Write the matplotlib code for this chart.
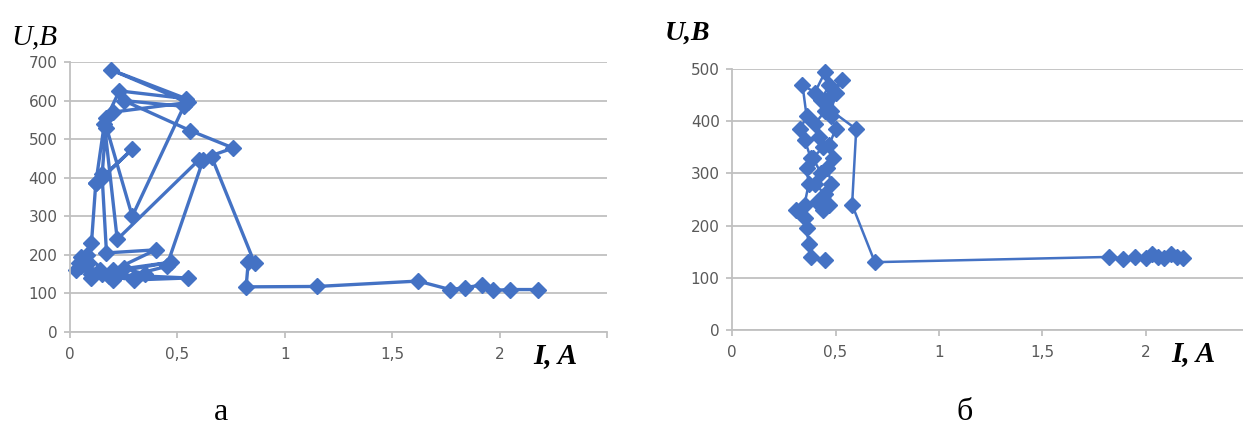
import matplotlib.pyplot as plt
from matplotlib.ticker import FuncFormatter

# chart a: I (A) and U (V), one trace
a_current = [0.03, 0.05, 0.08, 0.10, 0.12, 0.15, 0.17, 0.23, 0.54, 0.19, 0.55,
             0.20, 0.17, 0.29, 0.53, 0.25, 0.56, 0.76, 0.60, 0.22, 0.16, 0.12,
             0.29, 0.15, 0.17, 0.40, 0.20, 0.47, 0.15, 0.55, 0.30, 0.10, 0.04,
             0.08, 0.18, 0.25, 0.35, 0.30, 0.14, 0.05, 0.10, 0.22, 0.20, 0.45,
             0.62, 0.66, 0.86, 0.83, 0.82, 1.15, 1.62, 1.77, 1.84, 1.92, 1.97,
             2.05, 2.18]
a_voltage = [160, 195, 175, 230, 385, 410, 555, 625, 605, 680, 595,
             570, 530, 300, 585, 600, 522, 477, 446, 240, 540, 385,
             474, 400, 205, 213, 160, 181, 150, 140, 135, 150, 180,
             200, 145, 165, 150, 140, 160, 170, 140, 150, 135, 170,
             446, 453, 178, 181, 117, 118, 132, 110, 115, 122, 108,
             110, 110]

# chart b
b_current = [0.45, 0.38, 0.37, 0.36, 0.35, 0.31, 0.35, 0.37, 0.36, 0.38, 0.35,
             0.33, 0.36, 0.34, 0.40, 0.45, 0.47, 0.43, 0.45, 0.40, 0.42, 0.44,
             0.39, 0.43, 0.40, 0.45, 0.41, 0.44, 0.47, 0.48, 0.46, 0.49, 0.47,
             0.50, 0.48, 0.46, 0.53, 0.50, 0.48, 0.60, 0.58, 0.69, 1.82, 1.89,
             1.95, 2.00, 2.03, 2.06, 2.09, 2.12, 2.15, 2.18]
b_voltage = [135, 140, 165, 195, 215, 230, 240, 280, 310, 330, 365,
             385, 410, 470, 455, 495, 470, 440, 420, 395, 370, 350,
             330, 300, 280, 260, 245, 230, 240, 280, 310, 330, 355,
             385, 410, 440, 480, 455, 420, 385, 240, 130, 140, 137,
             140, 138, 145, 140, 138, 145, 140, 138]

x_ticks = [0, 0.5, 1, 1.5, 2, 2.5]

blue = '#4472c4'
grid = '#c0c0c0'

fig = plt.figure(figsize=(12.43, 4.40), dpi=100)
ax1 = fig.add_axes([0.0563, 0.2455, 0.432, 0.6136])
ax2 = fig.add_axes([0.589, 0.25, 0.416, 0.593])


def comma(v, pos):
    if v == 2.5:
        return ''
    return f'{v:g}'.replace('.', ',')


def style(ax, ymax):
    ax.set_xlim(0, 2.5)
    ax.set_ylim(0, ymax)
    ax.set_xticks(x_ticks)
    ax.set_yticks(range(0, ymax + 1, 100))
    ax.xaxis.set_major_formatter(FuncFormatter(comma))
    ax.grid(axis='y', color=grid, lw=1.3)
    ax.set_axisbelow(True)
    for s in ['top', 'right']:
        ax.spines[s].set_visible(False)
    for s in ['left', 'bottom']:
        ax.spines[s].set_color(grid)
        ax.spines[s].set_linewidth(1.3)
    ax.tick_params(colors=grid, labelcolor='#595959', labelsize=11,
                   length=4, width=1.3)
    ax.tick_params(axis='y', pad=5)
    ax.tick_params(axis='x', pad=7)


style(ax1, 700)
style(ax2, 500)

ax1.plot(a_current, a_voltage, color=blue, lw=2.4, marker='D', ms=8,
         solid_joinstyle='round', clip_on=False)
ax2.plot(b_current, b_voltage, color=blue, lw=1.8, marker='D', ms=8,
         solid_joinstyle='round', clip_on=False)

serif = 'Liberation Serif'
fig.text(0.009, 0.900, 'U,B', family=serif, style='italic', fontsize=21)
fig.text(0.535, 0.910, 'U,B', family=serif, style='italic', weight='bold', fontsize=20)
fig.text(0.429, 0.175, 'I, A', family=serif, style='italic', weight='bold', fontsize=21)
fig.text(0.942, 0.180, 'I, A', family=serif, style='italic', weight='bold', fontsize=21)
fig.text(0.178, 0.045, 'а', family=serif, fontsize=23, ha='center')
fig.text(0.776, 0.045, 'б', family=serif, fontsize=23, ha='center')

fig.savefig('out.png', dpi=100)
